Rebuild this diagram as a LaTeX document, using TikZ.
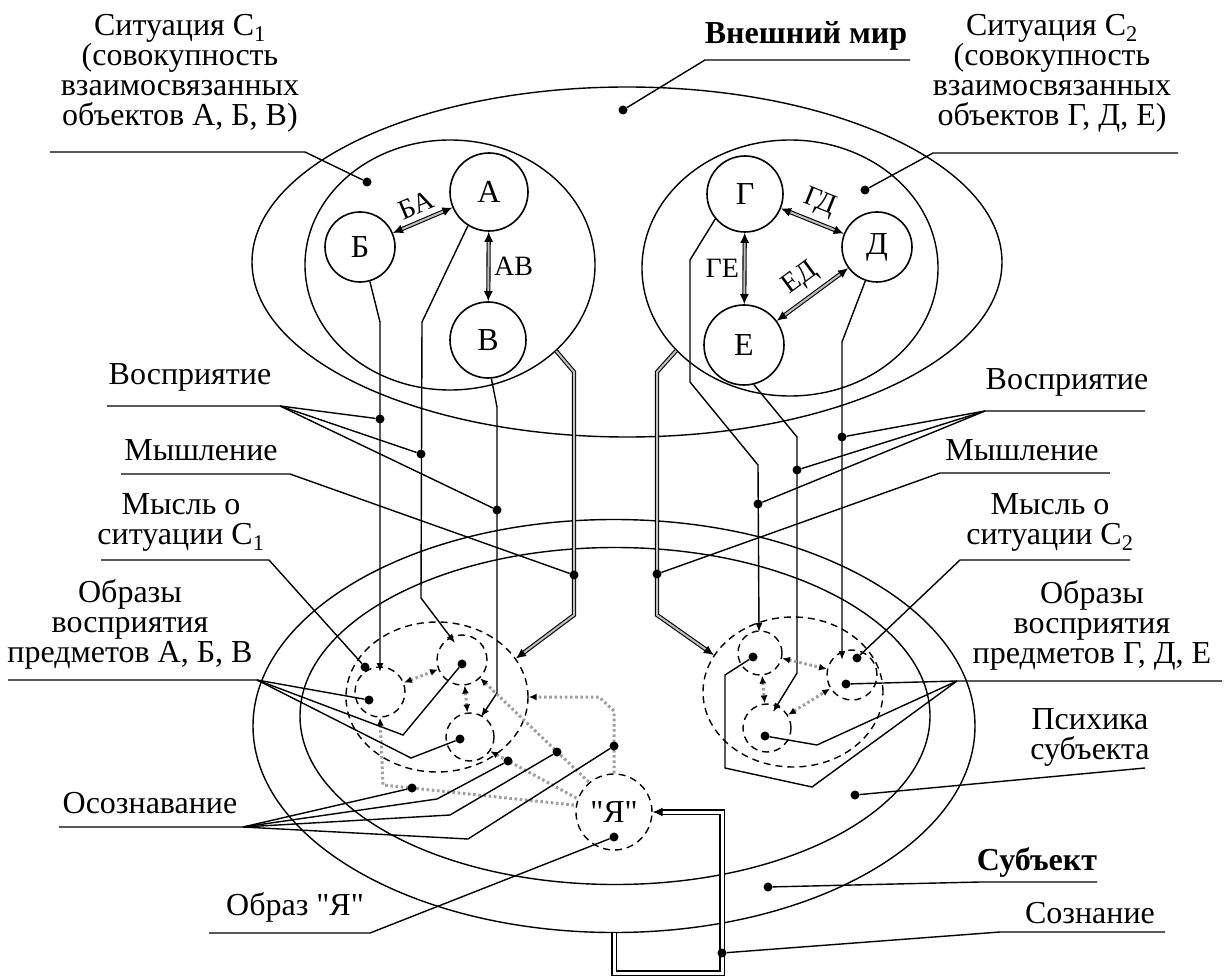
\documentclass[tikz,border=0pt]{standalone}
\usepackage{fontspec}
\setmainfont{Liberation Serif}[Ligatures=TeXOff]
\usetikzlibrary{arrows.meta,shapes.geometric}

\begin{document}
\begin{tikzpicture}[
  x=1pt,y=-1pt,
  every node/.style={font=\fontsize{32}{30}\selectfont,align=center},
  ln/.style={line width=1.4pt},
  ell/.style={ellipse,draw,line width=1.4pt,inner sep=0pt},
  obj/.style={circle,draw,line width=1.6pt,inner sep=0pt},
  img/.style={draw,line width=1.4pt,dash pattern=on 7pt off 5pt,inner sep=0pt},
  dot/.style={circle,fill,inner sep=0pt,minimum size=9pt},
  arr/.style={-{Latex[length=9pt,width=7pt]},line width=1.4pt},
  dbl/.style={double=gray!50,double distance=2pt,line width=1.1pt},
  dbarr/.style={dbl,{Latex[length=10pt,width=9pt]}-{Latex[length=10pt,width=9pt]}},
  loopl/.style={double=white,double distance=3pt,line width=1.2pt,-{Latex[length=10pt,width=9pt]}},
  dotl/.style={draw=gray!75,line width=3pt,dash pattern=on 2.6pt off 2.6pt},
  dtwo/.style={dotl,{Latex[length=8pt,width=7pt,color=black]}-{Latex[length=8pt,width=7pt,color=black]}},
  dbeg/.style={dotl,{Latex[length=8pt,width=7pt,color=black]}-},
  dend/.style={dotl,-{Latex[length=8pt,width=7pt,color=black]}},
  lbl/.style={font=\fontsize{28}{28}\selectfont,inner sep=2pt}
]
\useasboundingbox (0,0) rectangle (1224,976);

% ============================================================
% REGIONS: outer world, situations, subject
% ============================================================

\node[ell,minimum width=750,minimum height=350] (W) at (627,262) {};
\node[ell,minimum width=290,minimum height=250] (S1) at (450,265) {};
\node[ell,minimum width=296,minimum height=256] (S2) at (790,268) {};
\node[ell,minimum width=722,minimum height=413] (Subj) at (614,726) {};
\node[ell,minimum width=630,minimum height=337] (Psy) at (615,716) {};

% ============================================================
% OBJECTS of the two situations
% ============================================================

\node[obj,minimum size=78] (A) at (489,192) {А};
\node[obj,minimum size=70] (B) at (360,247) {Б};
\node[obj,minimum size=76] (V) at (488,340) {В};
\node[obj,minimum size=76] (G) at (745,194) {Г};
\node[obj,minimum size=70] (D) at (877,247) {Д};
\node[obj,minimum size=80] (E) at (744,345) {Е};

\draw[dbarr] (B) -- node[lbl,above=5pt,sloped] {БА} (A);
\draw[dbarr] (A) -- node[lbl,right=3pt] {АВ} (V);
\draw[dbarr] (G) -- node[lbl,left=3pt] {ГЕ} (E);
\draw[dbarr] (G) -- node[lbl,above=5pt,sloped] {ГД} (D);
\draw[dbarr] (E) -- node[lbl,above=5pt,sloped] {ЕД} (D);

% ============================================================
% IMAGES inside the psyche (dashed)
% ============================================================

\node[img,circle,minimum size=50] (Bi) at (380,692) {};
\node[img,circle,minimum size=50] (Ai) at (462,660) {};
\node[img,circle,minimum size=48] (Vi) at (470,737) {};
\node[img,ellipse,minimum width=182,minimum height=150] (T1) at (437,697) {};
\node[img,circle,minimum size=44] (Gi) at (760,653) {};
\node[img,circle,minimum size=50] (Di) at (852,675) {};
\node[img,circle,minimum size=48] (Ei) at (767,728) {};
\node[img,ellipse,minimum width=180,minimum height=150] (T2) at (793,692) {};
\node[img,circle,minimum size=76] (Ya) at (614,812) {"Я"};

% tips of the perception lines
\coordinate (Btip) at (380,672);
\coordinate (Atip) at (455,643);
\coordinate (Vtip) at (481,717);
\coordinate (Gtip) at (759,632);
\coordinate (Etip) at (773,712);
\coordinate (Dtip) at (842,660);

% perception
\draw[arr] (B.286) -- (380,322) -- (Btip);
\draw[arr] (A.238) -- (422,322) -- (421,598) -- (Atip);
\draw[arr] (V.275) -- (497,407) -- (497,693) -- (Vtip);
\draw[arr] (G.220) -- (690,260) -- (690,382) -- (758,465) -- (Gtip);
\draw[arr] (E.284) -- (797,437) -- (797,673) -- (Etip);
\draw[arr] (D.251) -- (842,342) -- (Dtip);

% thinking
\draw[dbl,-{Latex[length=10pt,width=9pt]}] (S1.-39) -- (574,372) -- (574,615) -- (T1.26);
\draw[dbl,-{Latex[length=10pt,width=9pt]}] (S2.216) -- (657,372) -- (657,615) -- (T2.155);

% awareness (dotted)
\draw[dtwo] (Bi) -- (Ai);
\draw[dtwo] (Ai) -- (Vi);
\draw[dbeg] (Bi.south) -- (383,785) -- (Ya.170);
\draw[dbeg] (Ai.-45) -- (Ya.130);
\draw[dbeg] (Vi.-35) -- (Ya.160);
\draw[dend] (Ya.north) -- (614,711) -- (599,697) -- (T1.east);
\draw[dtwo] (Gi) -- (Di);
\draw[dtwo] (Gi) -- (Ei);
\draw[dtwo] (Ei) -- (Di);

% consciousness loop
\draw[loopl] (Subj.south) -- (614,973) -- (722,973) -- (722,812) -- (Ya.east);

% ============================================================
% LABELS: left side
% ============================================================

\node (LS1) at (180,73) {Ситуация С\textsubscript{1}\\(совокупность\\взаимосвязанных\\объектов А, Б, В)};
\coordinate (LS1a) at (50,152);
\coordinate (LS1b) at (305,152);
\node[dot] (dS1) at (367,182) {};
\draw[ln] (LS1a) -- (LS1b) -- (dS1);

\node (LPl) at (190,377) {Восприятие};
\coordinate (LPla) at (107,406);
\coordinate (LPlb) at (280,406);
\node[dot] (dPl1) at (380,419) {};
\node[dot] (dPl2) at (421,454) {};
\node[dot] (dPl3) at (497,510) {};
\draw[ln] (LPla) -- (LPlb) -- (dPl1);
\draw[ln] (LPlb) -- (dPl2);
\draw[ln] (LPlb) -- (dPl3);

\node (LTl) at (201,450) {Мышление};
\coordinate (LTla) at (121,474);
\coordinate (LTlb) at (290,474);
\node[dot] (dTl) at (574,575) {};
\draw[ln] (LTla) -- (LTlb) -- (dTl);

\node (LMl) at (181,522) {Мысль о\\ситуации С\textsubscript{1}};
\coordinate (LMla) at (101,560);
\coordinate (LMlb) at (269,560);
\node[dot] (dMl) at (365,667) {};
\draw[ln] (LMla) -- (LMlb) -- (dMl);

\node (LIl) at (130,624) {Образы\\восприятия\\предметов А, Б, В};
\coordinate (LIla) at (8,680);
\coordinate (LIlb) at (257,680);
\node[dot] (dIl1) at (369,700) {};
\node[dot] (dIl2) at (462,664) {};
\node[dot] (dIl3) at (460,739) {};
\draw[ln] (LIla) -- (LIlb) -- (dIl1);
\draw[ln] (LIlb) -- (403,735) -- (dIl2);
\draw[ln] (LIlb) -- (411,758) -- (dIl3);

\node (LAw) at (150,803) {Осознавание};
\coordinate (LAwa) at (59,827);
\coordinate (LAwb) at (243,827);
\node[dot] (dAw1) at (412,788) {};
\node[dot] (dAw2) at (508,761) {};
\node[dot] (dAw3) at (557,752) {};
\node[dot] (dAw4) at (614,746) {};
\draw[ln] (LAwa) -- (LAwb) -- (dAw1);
\draw[ln] (LAwb) -- (437,799) -- (dAw2);
\draw[ln] (LAwb) -- (450,815) -- (dAw3);
\draw[ln] (LAwb) -- (468,839) -- (dAw4);

\node (LYa) at (295,907) {Образ "Я"};
\coordinate (LYaa) at (209,933);
\coordinate (LYab) at (370,933);
\node[dot] (dYa) at (614,837) {};
\draw[ln] (LYaa) -- (LYab) -- (dYa);

% ============================================================
% LABELS: right side
% ============================================================

\node[font=\fontsize{32}{30}\selectfont\bfseries] (LW) at (806,36) {Внешний мир};
\coordinate (LWa) at (910,60);
\coordinate (LWb) at (705,60);
\node[dot] (dW) at (623,110) {};
\draw[ln] (LWa) -- (LWb) -- (dW);

\node (LS2) at (1052,73) {Ситуация С\textsubscript{2}\\(совокупность\\взаимосвязанных\\объектов Г, Д, Е)};
\coordinate (LS2a) at (1178,153);
\coordinate (LS2b) at (933,153);
\node[dot] (dS2) at (865,190) {};
\draw[ln] (LS2a) -- (LS2b) -- (dS2);

\node (LPr) at (1067,382) {Восприятие};
\coordinate (LPra) at (1145,411);
\coordinate (LPrb) at (985,411);
\node[dot] (dPr1) at (842,437) {};
\node[dot] (dPr2) at (797,470) {};
\node[dot] (dPr3) at (758,504) {};
\draw[ln] (LPra) -- (LPrb) -- (dPr1);
\draw[ln] (LPrb) -- (dPr2);
\draw[ln] (LPrb) -- (dPr3);

\node (LTr) at (1022,450) {Мышление};
\coordinate (LTra) at (1110,473);
\coordinate (LTrb) at (940,473);
\node[dot] (dTr) at (657,574) {};
\draw[ln] (LTra) -- (LTrb) -- (dTr);

\node (LMr) at (1050,522) {Мысль о\\ситуации С\textsubscript{2}};
\coordinate (LMra) at (1130,560);
\coordinate (LMrb) at (960,560);
\node[dot] (dMr) at (857,658) {};
\draw[ln] (LMra) -- (LMrb) -- (dMr);

\node (LIr) at (1092,625) {Образы\\восприятия\\предметов Г, Д, Е};
\coordinate (LIra) at (1222,681);
\coordinate (LIrb) at (957,681);
\node[dot] (dIr1) at (846,684) {};
\node[dot] (dIr2) at (765,736) {};
\node[dot] (dIr3) at (753,657) {};
\draw[ln] (LIra) -- (LIrb) -- (dIr1);
\draw[ln] (LIrb) -- (817,745) -- (dIr2);
\draw[ln] (LIrb) -- (812,787) -- (725,768) -- (725,675) -- (dIr3);

\node (LPs) at (1090,737) {Психика\\субъекта};
\coordinate (LPsa) at (1145,768);
\node[dot] (dPs) at (855,795) {};
\draw[ln] (LPsa) -- (dPs);

\node[font=\fontsize{32}{30}\selectfont\bfseries] (LSu) at (1037,862) {Субъект};
\coordinate (LSua) at (1097,882);
\coordinate (LSub) at (980,882);
\node[dot] (dSu) at (768,887) {};
\draw[ln] (LSua) -- (LSub) -- (dSu);

\node (LCo) at (1090,913) {Сознание};
\coordinate (LCoa) at (1165,932);
\coordinate (LCob) at (1000,932);
\node[dot] (dCo) at (722,953) {};
\draw[ln] (LCoa) -- (LCob) -- (dCo);

\end{tikzpicture}
\end{document}
